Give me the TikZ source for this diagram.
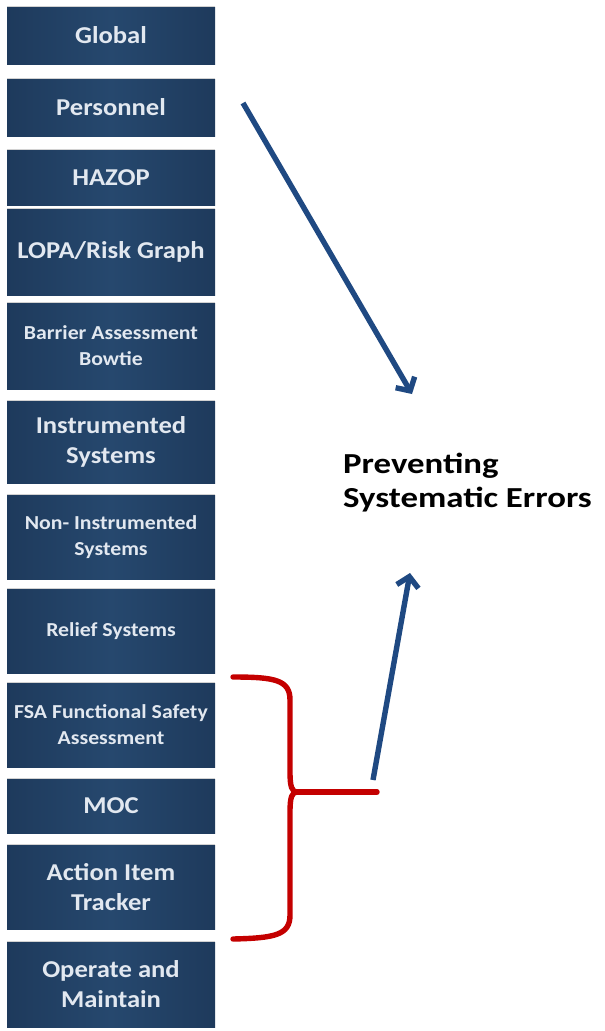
\documentclass[tikz,border=0pt]{standalone}
\usepackage{fontspec}
\usetikzlibrary{arrows.meta}
\newfontfamily\boxfont[FakeStretch=1.1]{Carlito}
\newfontfamily\titlefont[FakeStretch=1.2]{Carlito}
\definecolor{boxedge}{RGB}{30,58,92}
\definecolor{boxmid}{RGB}{38,72,110}
\definecolor{boxtext}{RGB}{226,232,240}
\definecolor{arrowblue}{RGB}{31,73,130}
\definecolor{bracered}{RGB}{196,0,0}
\tikzset{
  box/.style={rectangle, minimum width=208pt, inner sep=2pt, align=center,
    left color=boxedge, right color=boxedge, middle color=boxmid,
    text=boxtext},
  bigtxt/.style={font=\boxfont\bfseries\fontsize{24.2}{30}\selectfont},
  smalltxt/.style={font=\boxfont\bfseries\fontsize{19.8}{26}\selectfont},
  bluearrow/.style={draw=arrowblue, line width=5.4pt,
    -{Straight Barb[length=10pt,width=22pt,line width=5.4pt]}},
  redbrace/.style={draw=bracered, line width=5.4pt, line cap=round, line join=round},
  toplight/.style={draw=gray!35, line width=1pt}
}
\begin{document}
\begin{tikzpicture}[x=1pt,y=-1pt]
\useasboundingbox[fill=white] (0,0) rectangle (605,1031);
% boxes
\node[box,bigtxt,minimum height=57pt] (b1) at (111,35.5) {Global};
\node[box,bigtxt,minimum height=57pt] (b2) at (111,107.5) {Personnel};
\node[box,bigtxt,minimum height=55pt] (b3) at (111,177.5) {HAZOP};
\node[box,bigtxt,minimum height=86pt] (b4) at (111,252) {LOPA/Risk Graph};
\node[box,smalltxt,minimum height=86pt] (b5) at (111,346) {Barrier Assessment\\Bowtie};
\node[box,bigtxt,minimum height=82pt] (b6) at (111,442) {Instrumented\\Systems};
\node[box,smalltxt,minimum height=84pt] (b7) at (111,537) {Non- Instrumented\\Systems};
\node[box,smalltxt,minimum height=84pt] (b8) at (111,631) {Relief Systems};
\node[box,smalltxt,minimum height=84pt] (b9) at (111,725) {FSA Functional Safety\\Assessment};
\node[box,bigtxt,minimum height=54pt] (b10) at (111,806) {MOC};
\node[box,bigtxt,minimum height=84pt] (b11) at (111,887) {Action Item\\Tracker};
\node[box,bigtxt,minimum height=85pt] (b12) at (111,984.5) {Operate and\\Maintain};
\foreach \n in {b1,b2,b3,b4,b5,b6,b7,b8,b9,b10,b11,b12}{
  \draw[toplight] (\n.north west) -- (\n.north east);
}
% title
\node[anchor=base west, align=left, inner sep=0pt,
  font=\titlefont\bfseries\fontsize{29}{34}\selectfont] (title) at (343,507)
  {Preventing\\Systematic Errors};
% brace
\coordinate (btop) at (233,677);
\coordinate (bbot) at (233,939);
\coordinate (btip) at (297,792);
\coordinate (bend) at (377,792);
\draw[redbrace] (btop) .. controls (275,677) and (290,680) .. (290,700)
  -- (290,772) .. controls (290,787) and (292,792) .. (btip)
  .. controls (292,792) and (290,797) .. (290,812)
  -- (290,915) .. controls (290,935) and (275,938) .. (bbot);
\draw[redbrace] (btip) -- (bend);
% arrows
\coordinate (a1s) at (243,103);
\coordinate (a1e) at (412,394);
\coordinate (a2s) at (373,780);
\coordinate (a2e) at (410,573);
\draw[bluearrow] (a1s) -- (a1e);
\draw[bluearrow] (a2s) -- (a2e);
\end{tikzpicture}
\end{document}
